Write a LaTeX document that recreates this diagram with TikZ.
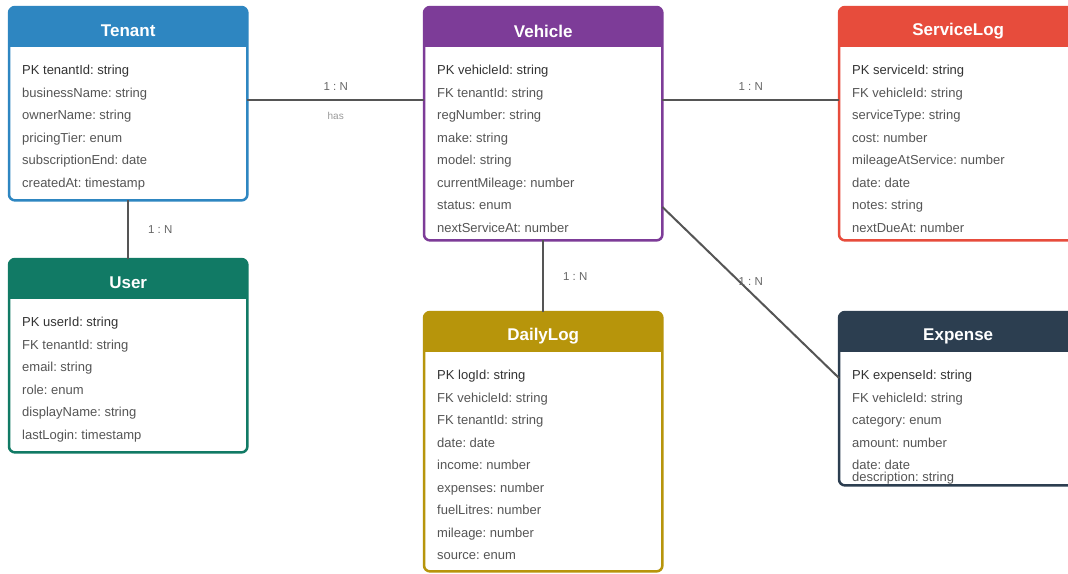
\documentclass[tikz,border=0pt]{standalone}
\usepackage{fontspec}
\setmainfont{Liberation Sans}
\frenchspacing
\definecolor{tenantc}{HTML}{2E86C1}
\definecolor{vehiclec}{HTML}{7D3C98}
\definecolor{servicec}{HTML}{E74C3C}
\definecolor{userc}{HTML}{117A65}
\definecolor{dailyc}{HTML}{B7950B}
\definecolor{expensec}{HTML}{2C3E50}
\definecolor{linec}{HTML}{555555}
\definecolor{rowc}{HTML}{555555}
\definecolor{pkc}{HTML}{333333}
\definecolor{lblc}{HTML}{666666}
\definecolor{notec}{HTML}{999999}

\tikzset{
  frame/.style={rectangle, minimum width=238pt, inner sep=0pt, anchor=north west},
  titletext/.style={text=white, font=\fontsize{17}{20}\selectfont\bfseries, inner sep=0pt},
  rowtext/.style={text=rowc, font=\fontsize{13}{15}\selectfont, inner sep=0pt, anchor=base west},
  pktext/.style={rowtext, text=pkc},
  rel/.style={draw=linec, line width=2pt},
  card/.style={text=lblc, font=\fontsize{11.5}{13}\selectfont, inner sep=0pt},
  verb/.style={text=notec, font=\fontsize{10}{12}\selectfont, inner sep=0pt}
}

% #1 name, #2 colour, #3 x, #4 top y, #5 height, #6 title, #7 attribute rows
\newcommand\erentity[7]{%
  \node[frame, minimum height=#5pt] (#1) at (#3,#4) {};
  \begin{scope}
    \clip[rounded corners=6pt] (#1.north west) rectangle (#1.south east);
    \fill[#2] (#1.north west) rectangle ([yshift=-40pt]#1.north east);
  \end{scope}
  \draw[#2, line width=2.5pt, rounded corners=6pt] (#1.north west) rectangle (#1.south east);
  \node[titletext] (#1-title) at ([yshift=-24pt]#1.north) {#6};
  \foreach \attr [count=\i] in {#7}{
    \ifnum\i=1
      \node[pktext] (#1-row\i) at ([xshift=13pt, yshift={-67.5pt-22.5pt*(\i-1)}]#1.north west) {\attr};
    \else
      \node[rowtext] (#1-row\i) at ([xshift=13pt, yshift={-67.5pt-22.5pt*(\i-1)}]#1.north west) {\attr};
    \fi
  }%
}

\begin{document}
\begin{tikzpicture}[x=1pt, y=-1pt]
\clip (0,0) rectangle (1068,573);
\fill[white] (0,0) rectangle (1068,573);

\erentity{tenant}{tenantc}{9}{7}{193}{Tenant}{PK tenantId: string, businessName: string, ownerName: string, pricingTier: enum, subscriptionEnd: date, createdAt: timestamp}
\erentity{vehicle}{vehiclec}{424}{7}{233}{Vehicle}{PK vehicleId: string, FK tenantId: string, regNumber: string, make: string, model: string, currentMileage: number, status: enum, nextServiceAt: number}
\erentity{servicelog}{servicec}{839}{7}{233}{ServiceLog}{PK serviceId: string, FK vehicleId: string, serviceType: string, cost: number, mileageAtService: number, date: date, notes: string, nextDueAt: number}
\erentity{user}{userc}{9}{259}{193}{User}{PK userId: string, FK tenantId: string, email: string, role: enum, displayName: string, lastLogin: timestamp}
\erentity{dailylog}{dailyc}{424}{312}{259}{DailyLog}{PK logId: string, FK vehicleId: string, FK tenantId: string, date: date, income: number, expenses: number, fuelLitres: number, mileage: number, source: enum}
\erentity{expense}{expensec}{839}{312}{173}{Expense}{PK expenseId: string, FK vehicleId: string, category: enum, amount: number, date: date}
\node[rowtext] (expense-row6) at ([xshift=13pt, yshift=-169.5pt]expense.north west) {description: string};

% relationships
\draw[rel] ([yshift=-93pt]tenant.north east) -- ([yshift=-93pt]vehicle.north west)
  node[card, midway, yshift=13pt] (tv-card) {1 : N}
  node[verb, midway, yshift=-16pt] (tv-verb) {has};
\draw[rel] (tenant.south) -- (user.north)
  node[card, midway, xshift=32pt] (tu-card) {1 : N};
\draw[rel] ([yshift=-93pt]vehicle.north east) -- ([yshift=-93pt]servicelog.north west)
  node[card, midway, yshift=13pt] (vs-card) {1 : N};
\draw[rel] (vehicle.south) -- (dailylog.north)
  node[card, midway, xshift=32pt] (vd-card) {1 : N};
\draw[rel] ([yshift=-200pt]vehicle.north east) -- ([yshift=-66pt]expense.north west)
  node[card, midway, yshift=11pt] (ve-card) {1 : N};
\end{tikzpicture}
\end{document}
